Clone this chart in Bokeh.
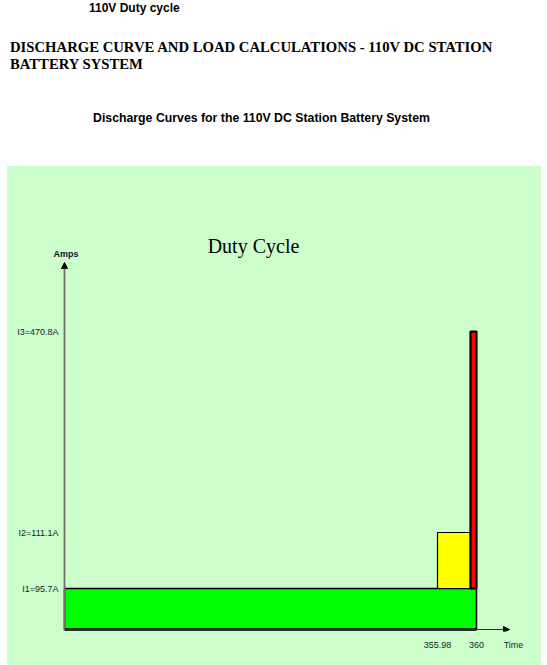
import numpy as np
from bokeh.plotting import figure
from bokeh.models import (ColumnDataSource, FixedTicker, Range1d, Label, Arrow,
                          NormalHead, Div)
from bokeh.layouts import column
from bokeh.embed import file_html
from bokeh.resources import INLINE

# ---------------- data ----------------
period_names = ["I1", "I2", "I3"]
period_start = [0.0, 355.98, 359.0]      # minutes
period_end = [360.0, 359.0, 360.0]       # minutes
amps = [95.7, 111.1, 470.8]              # A
amp_labels = ["I1=95.7A", "I2=111.1A", "I3=470.8A"]
time_ticks = [355.98, 360.0]
time_labels = ["355.98", "360"]
bar_colors = ["#00FF00", "#FFFF00", "#FF0000"]

# ------- schematic (not-to-scale) axes of the original drawing -------
time_knots = [0.0, 355.98, 359.0, 360.0]
time_draw = [0.0, 373.0, 406.0, 412.0]
amp_knots = [0.0, 95.7, 111.1, 470.8]
amp_draw = [0.0, 41.0, 97.0, 298.0]


def tx(v):
    return np.interp(v, time_knots, time_draw)


def ay(v):
    return np.interp(v, amp_knots, amp_draw)


base_level = [0.0, amps[0], amps[0]]
src = ColumnDataSource(dict(
    left=tx(period_start), right=tx(period_end),
    bottom=ay(base_level), top=ay(amps),
    color=bar_colors, lw=[1.5, 1.2, 2.2],
))

PANEL = "#CCFFCC"
SANS = "'Liberation Sans', Arial, sans-serif"
TIME_NAME_POS = 449.0

p = figure(width=534, height=499, output_backend="svg", toolbar_location=None,
           x_range=Range1d(-14, 454), y_range=Range1d(-2, 403),
           background_fill_color=None, border_fill_color=None,
           outline_line_color=None,
           min_border_left=43, min_border_right=23,
           min_border_top=60, min_border_bottom=34)
p.margin = (0, 0, 0, 7)
p.styles = {"background-color": PANEL}
p.xgrid.visible = False
p.ygrid.visible = False

p.quad(left="left", right="right", bottom="bottom", top="top", source=src,
       fill_color="color", line_color="black", line_width="lw")

# axes
for ax in (p.xaxis[0], p.yaxis[0]):
    ax.axis_line_color = None
    ax.major_tick_line_color = None
    ax.minor_tick_line_color = None
    ax.major_tick_out = 0
    ax.major_tick_in = 0
    ax.major_label_text_font = SANS
    ax.major_label_text_font_size = "9px"
    ax.major_label_text_color = "#1a1a2a"

p.yaxis.ticker = FixedTicker(ticks=list(ay(amps)))
p.yaxis.major_label_overrides = {float(v): s for v, s in zip(ay(amps), amp_labels)}
p.yaxis.major_label_standoff = -8

x_tick_pos = list(tx(time_ticks)) + [TIME_NAME_POS]
x_tick_txt = time_labels + ["Time"]
p.xaxis.ticker = FixedTicker(ticks=x_tick_pos)
p.xaxis.major_label_overrides = {float(v): s for v, s in zip(x_tick_pos, x_tick_txt)}
p.xaxis.major_label_standoff = 8

# axis arrows
p.add_layout(Arrow(end=NormalHead(size=6, fill_color="black", line_color="black"),
                   x_start=0, y_start=-1, x_end=0, y_end=367,
                   line_color="#707070", line_width=1.8))
p.add_layout(Arrow(end=NormalHead(size=6, fill_color="black", line_color="black"),
                   x_start=0, y_start=0, x_end=445, y_end=0,
                   line_color="#303030", line_width=1.2))
p.segment(x0=[0], y0=[0], x1=[tx(360.0)], y1=[0], line_color="black", line_width=2.5)

p.add_layout(Label(x=1.5, y=376, text="Amps", text_align="center",
                   text_baseline="middle", text_font=SANS,
                   text_font_size="9px", text_font_style="bold",
                   text_color="#111133"))
p.add_layout(Label(x=189, y=384, text="Duty Cycle", text_align="center",
                   text_baseline="middle", text_font="'Liberation Serif', serif",
                   text_font_size="20px", text_color="black"))

header = Div(width=547, height=166, margin=0, styles={"overflow": "visible"}, text="""
<div style="position:relative;width:547px;height:166px;overflow:visible;">
<div style="position:absolute;left:89px;top:2px;font:bold 12px 'Liberation Sans',Arial,sans-serif;line-height:12px;white-space:nowrap;">110V Duty cycle</div>
<div style="position:absolute;left:10px;top:39px;font:bold 14.7px 'Liberation Serif','Times New Roman',serif;line-height:17px;white-space:nowrap;">DISCHARGE CURVE AND LOAD CALCULATIONS - 110V DC STATION<br>BATTERY SYSTEM</div>
<div style="position:absolute;left:93px;top:112px;font:bold 12.3px 'Liberation Sans',Arial,sans-serif;line-height:12px;white-space:nowrap;">Discharge Curves for the 110V DC Station Battery System</div>
</div>
""")

layout = column(header, p, spacing=0)
open("out.html", "w").write(file_html(layout, INLINE))
